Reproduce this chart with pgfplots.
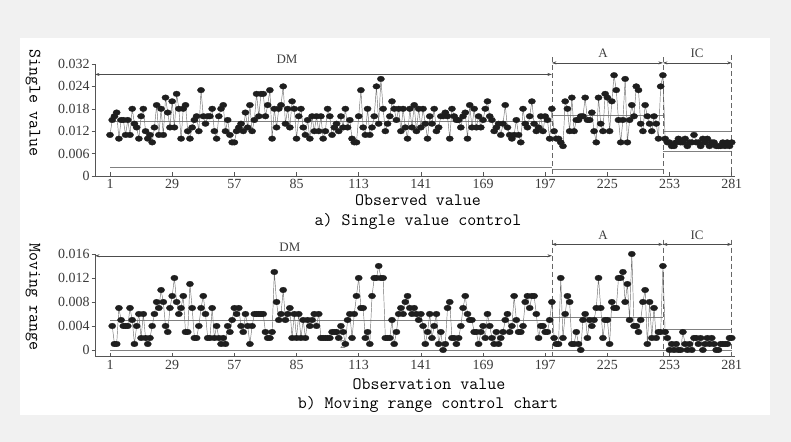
\documentclass[border=0pt]{standalone}
\usepackage{fontspec}
\setmainfont{Liberation Serif}
\usepackage{pgfplots}
\usepackage{pgfplotstable}
\pgfplotsset{compat=1.18}
\usetikzlibrary{arrows.meta}
\definecolor{bggray}{HTML}{F1F1F1}
\definecolor{axisgray}{HTML}{555555}
\definecolor{tickgray}{HTML}{3A3A3A}
\definecolor{markc}{HTML}{1E1E1E}
\definecolor{linec}{HTML}{707070}
\definecolor{refc}{HTML}{808080}

% Single values (x 0.001), observations 1..281
\pgfplotstableread[row sep=\\]{v\\
11\\15\\16\\17\\10\\15\\15\\11\\15\\11\\
18\\14\\13\\10\\16\\18\\12\\10\\11\\9\\
13\\19\\11\\18\\11\\21\\17\\13\\20\\13\\
22\\18\\10\\18\\19\\12\\10\\13\\15\\16\\
12\\23\\16\\14\\16\\16\\18\\12\\10\\16\\
18\\19\\12\\15\\11\\9\\9\\12\\13\\14\\
12\\17\\13\\19\\12\\15\\22\\16\\22\\22\\
16\\19\\23\\10\\18\\13\\18\\19\\24\\14\\
18\\13\\20\\18\\10\\16\\18\\13\\11\\15\\
10\\16\\12\\16\\12\\16\\10\\12\\18\\16\\
11\\13\\14\\12\\16\\13\\18\\13\\15\\10\\
9\\9\\16\\23\\13\\11\\18\\11\\13\\16\\
24\\14\\26\\18\\12\\14\\16\\20\\18\\15\\
18\\12\\18\\13\\10\\18\\13\\19\\12\\18\\
13\\18\\14\\10\\16\\14\\18\\12\\13\\16\\
16\\17\\16\\10\\18\\16\\15\\15\\13\\16\\
17\\10\\19\\13\\18\\13\\16\\13\\15\\18\\
20\\16\\15\\12\\13\\14\\11\\14\\19\\13\\
11\\10\\11\\15\\11\\9\\18\\14\\13\\16\\
20\\14\\12\\13\\16\\12\\16\\15\\10\\18\\
12\\10\\10\\9\\8\\20\\18\\12\\21\\12\\
15\\15\\16\\16\\21\\15\\15\\17\\12\\9\\
21\\14\\12\\22\\21\\12\\20\\27\\23\\15\\
9\\15\\26\\9\\15\\19\\16\\24\\23\\14\\
12\\19\\16\\14\\12\\16\\14\\10\\24\\27\\
10\\9\\9\\8\\8\\9\\10\\9\\9\\10\\
8\\9\\9\\11\\9\\9\\8\\10\\9\\10\\
8\\9\\9\\8\\8\\8\\9\\8\\9\\8\\9\\
}\sv

% Moving ranges (x 0.001), observations 2..281
\pgfplotstableread[row sep=\\]{v\\
4\\1\\1\\7\\5\\4\\4\\4\\7\\5\\
1\\4\\6\\2\\6\\2\\1\\2\\4\\6\\
8\\7\\10\\8\\4\\3\\7\\9\\12\\8\\
6\\7\\9\\3\\3\\11\\7\\2\\2\\4\\
7\\9\\6\\2\\2\\7\\2\\4\\2\\1\\
2\\1\\4\\3\\5\\7\\6\\7\\4\\3\\
6\\4\\1\\4\\6\\6\\6\\6\\6\\3\\2\\2\\3\\13\\
8\\5\\6\\10\\5\\6\\7\\2\\6\\2\\6\\2\\5\\2\\5\\4\\5\\6\\4\\6\\
2\\2\\2\\2\\2\\3\\3\\3\\2\\4\\3\\
1\\5\\6\\2\\6\\9\\12\\7\\7\\2\\3\\1\\
9\\12\\12\\14\\12\\12\\2\\2\\2\\5\\1\\3\\6\\7\\6\\8\\9\\7\\6\\7\\6\\5\\
6\\4\\1\\3\\6\\2\\4\\6\\1\\3\\
0\\1\\7\\8\\2\\2\\1\\2\\4\\7\\
9\\6\\5\\5\\3\\3\\1\\3\\4\\2\\
6\\4\\2\\1\\3\\1\\2\\3\\5\\6\\
3\\4\\9\\5\\3\\3\\4\\8\\9\\7\\
9\\9\\6\\2\\4\\4\\3\\3\\5\\8\\
2\\1\\1\\12\\2\\6\\9\\8\\1\\1\\
3\\1\\0\\5\\6\\2\\5\\4\\5\\7\\
12\\7\\2\\5\\5\\1\\8\\7\\7\\12\\
12\\13\\8\\11\\5\\16\\4\\4\\3\\5\\
8\\10\\1\\8\\2\\7\\2\\3\\3\\14\\
3\\2\\0\\1\\0\\1\\0\\0\\3\\1\\
0\\1\\0\\2\\2\\1\\2\\0\\1\\2\\
1\\2\\1\\0\\0\\1\\1\\1\\1\\2\\2\\
}\mr

\pgfplotsset{
  ccstyle/.style={
    x=2.2204bp, xmin=-5.76, xmax=282.5,
    axis x line*=bottom, axis y line*=left,
    axis line style={draw=axisgray, line width=0.7pt},
    xtick={1,29,57,85,113,141,169,197,225,253,281},
    xticklabels={1,29,57,85,113,141,169,197,225,253,281},
    xtick align=inside, ytick align=outside,
    major tick length=3.5bp,
    tick style={draw=axisgray, line width=0.5pt},
    ticklabel style={font=\fontsize{14}{14}\selectfont, text=tickgray},
    yticklabel style={xshift=1.5bp},
    clip=false,
  },
}
\tikzset{
  dataline/.style={draw=linec, line width=0.45pt, mark=*, mark size=2.85pt,
    mark options={fill=markc, draw=markc, xscale=1.28, line width=0.3pt}},
  refline/.style={draw=refc, line width=0.6pt, mark=none},
  segarr/.style={draw=black!70, line width=0.55pt, {Stealth[length=4.5bp,width=3bp]}-{Stealth[length=4.5bp,width=3bp]}},
  segdash/.style={draw=black!60, line width=0.6pt, dash pattern=on 5bp off 3bp},
  seglab/.style={font=\fontsize{13}{13}\selectfont, text=black!75},
}

\begin{document}
\begin{tikzpicture}[x=1bp,y=1bp]
\fill[bggray] (0,0) rectangle (791,442);
\fill[white] (20,27) rectangle (770,404);

% ---------- a) single values ----------
\begin{axis}[ccstyle, at={(95bp,266bp)}, anchor=south west,
  y=3.733bp, ymin=0, ymax=30,
  ytick={0,6,12,18,24,30},
  yticklabels={0,0.006,0.012,0.018,0.024,0.032}]
\addplot[refline] coordinates {(1,14.7) (200,14.7)};
\addplot[refline] coordinates {(1,2.2) (200,2.2)};
\addplot[refline] coordinates {(200,16.3) (250,16.3)};
\addplot[refline] coordinates {(200,1.9) (250,1.9)};
\addplot[refline] coordinates {(250,12.0) (281,12.0)};
\addplot[refline] coordinates {(250,6.5) (281,6.5)};
\addplot[dataline] table[x expr=\coordindex+1, y=v] {\sv};
\draw[segdash] (axis cs:200,31.8) -- (axis cs:200,0);
\draw[segdash] (axis cs:250,31.8) -- (axis cs:250,0);
\draw[segdash] (axis cs:281,32.4) -- (axis cs:281,0);
\draw[segarr] (axis cs:-5.76,27.2) -- (axis cs:200,27.2);
\draw[segarr] (axis cs:200,30.3) -- (axis cs:250,30.3);
\draw[segarr] (axis cs:250,30.3) -- (axis cs:281,30.3);
\node[seglab] at (axis cs:80.7,31.2) {DM};
\node[seglab] at (axis cs:223,32.9) {A};
\node[seglab] at (axis cs:265.4,32.9) {IC};
\end{axis}

% ---------- b) moving ranges ----------
\begin{axis}[ccstyle, at={(95bp,85.4bp)}, anchor=south west,
  y=6bp, ymin=-1.1, ymax=16,
  ytick={0,4,8,12,16},
  yticklabels={0,0.004,0.008,0.012,0.016}]
\addplot[refline] coordinates {(1,4.9) (200,4.9)};
\addplot[refline] coordinates {(1,0) (281,0)};
\addplot[refline] coordinates {(200,5.4) (250,5.4)};
\addplot[refline] coordinates {(250,3.5) (281,3.5)};
\addplot[dataline] table[x expr=\coordindex+2, y=v] {\mr};
\draw[segdash] (axis cs:200,18.4) -- (axis cs:200,-1.1);
\draw[segdash] (axis cs:250,18.4) -- (axis cs:250,-1.1);
\draw[segdash] (axis cs:281,18.4) -- (axis cs:281,-1.1);
\draw[segarr] (axis cs:-5.76,15.7) -- (axis cs:200,15.7);
\draw[segarr] (axis cs:200,17.6) -- (axis cs:250,17.6);
\draw[segarr] (axis cs:250,17.6) -- (axis cs:281,17.6);
\node[seglab] at (axis cs:82,17.2) {DM};
\node[seglab] at (axis cs:223,19.2) {A};
\node[seglab] at (axis cs:265.4,19.2) {IC};
\node[font=\sffamily\fontsize{12}{12}\selectfont, text=black!55] at (axis cs:106,0.9) {2};
\end{axis}

% ---------- texts ----------
\begin{scope}[every node/.style={font=\ttfamily\fontsize{17.5}{17.5}\selectfont, text=black}]
\node[rotate=-90] at (33,339) {Single value};
\node[rotate=-90] at (33,145) {Moving range};
\node at (418,242) {Observed value};
\node at (418,221) {a) Single value control};
\node at (429,58) {Observation value};
\node at (428,38) {b) Moving range control chart};
\end{scope}
\end{tikzpicture}
\end{document}
